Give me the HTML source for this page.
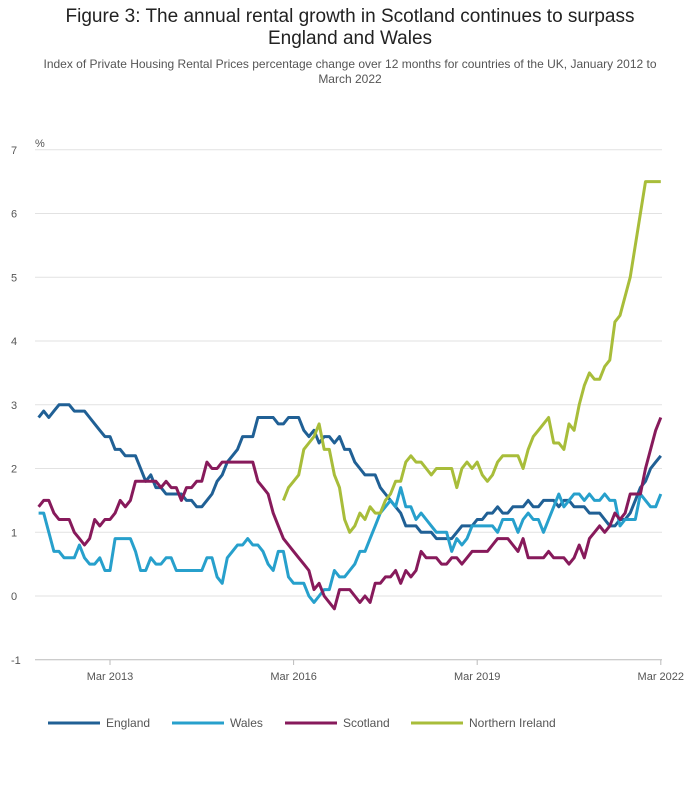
<!DOCTYPE html>
<html><head><meta charset="utf-8"><style>
body{margin:0;background:#fff;font-family:"Liberation Sans",sans-serif;}
#wrap{position:relative;width:700px;height:810px;}
.t{position:absolute;left:0;width:700px;text-align:center;}
</style></head><body>
<div id="wrap">
<div class="t" style="top:6px;font-size:19px;line-height:22px;color:#222;">Figure 3: The annual rental growth in Scotland continues to surpass<br>England and Wales</div>
<div class="t" style="top:57px;font-size:12px;line-height:15px;color:#555;padding:0 20px;box-sizing:border-box;">Index of Private Housing Rental Prices percentage change over 12 months for countries of the UK, January 2012 to<br>March 2022</div>
<svg id="chart" width="700" height="810" style="position:absolute;left:0;top:0"></svg>
</div>
<script>
const yTicks=[-1,0,1,2,3,4,5,6,7];
const xTickLabels=["Mar 2013","Mar 2016","Mar 2019","Mar 2022"];
const xTickMonths=[14,50,86,122];
const seriesNames=["England","Wales","Scotland","Northern Ireland"];
const seriesColors=["#206095","#27a0cc","#871a5b","#a8bd3a"];
const england=[2.8,2.9,2.8,2.9,3.0,3.0,3.0,2.9,2.9,2.9,2.8,2.7,2.6,2.5,2.5,2.3,2.3,2.2,2.2,2.2,2.0,1.8,1.9,1.7,1.7,1.6,1.6,1.6,1.6,1.5,1.5,1.4,1.4,1.5,1.6,1.8,1.9,2.1,2.2,2.3,2.5,2.5,2.5,2.8,2.8,2.8,2.8,2.7,2.7,2.8,2.8,2.8,2.6,2.5,2.6,2.4,2.5,2.5,2.4,2.5,2.3,2.3,2.1,2.0,1.9,1.9,1.9,1.7,1.6,1.5,1.4,1.3,1.1,1.1,1.1,1.0,1.0,1.0,0.9,0.9,0.9,0.9,1.0,1.1,1.1,1.1,1.2,1.2,1.3,1.3,1.4,1.3,1.3,1.4,1.4,1.4,1.5,1.4,1.4,1.5,1.5,1.5,1.4,1.5,1.5,1.4,1.4,1.4,1.3,1.3,1.3,1.2,1.1,1.1,1.2,1.2,1.3,1.5,1.7,1.8,2.0,2.1,2.2];
const wales=[1.3,1.3,1.0,0.7,0.7,0.6,0.6,0.6,0.8,0.6,0.5,0.5,0.6,0.4,0.4,0.9,0.9,0.9,0.9,0.7,0.4,0.4,0.6,0.5,0.5,0.6,0.6,0.4,0.4,0.4,0.4,0.4,0.4,0.6,0.6,0.3,0.2,0.6,0.7,0.8,0.8,0.9,0.8,0.8,0.7,0.5,0.4,0.7,0.7,0.3,0.2,0.2,0.2,0.0,-0.1,0.0,0.1,0.1,0.4,0.3,0.3,0.4,0.5,0.7,0.7,0.9,1.1,1.3,1.4,1.5,1.4,1.7,1.4,1.4,1.2,1.3,1.2,1.1,1.0,1.0,1.0,0.7,0.9,0.8,0.9,1.1,1.1,1.1,1.1,1.1,1.0,1.2,1.2,1.2,1.0,1.2,1.3,1.2,1.2,1.0,1.2,1.4,1.6,1.4,1.5,1.6,1.6,1.5,1.6,1.5,1.5,1.6,1.5,1.5,1.1,1.2,1.2,1.2,1.6,1.5,1.4,1.4,1.6];
const scotland=[1.4,1.5,1.5,1.3,1.2,1.2,1.2,1.0,0.9,0.8,0.9,1.2,1.1,1.2,1.2,1.3,1.5,1.4,1.5,1.8,1.8,1.8,1.8,1.8,1.7,1.8,1.7,1.7,1.5,1.7,1.7,1.8,1.8,2.1,2.0,2.0,2.1,2.1,2.1,2.1,2.1,2.1,2.1,1.8,1.7,1.6,1.3,1.1,0.9,0.8,0.7,0.6,0.5,0.4,0.1,0.2,0.0,-0.1,-0.2,0.1,0.1,0.1,0.0,-0.1,0.0,-0.1,0.2,0.2,0.3,0.3,0.4,0.2,0.4,0.3,0.4,0.7,0.6,0.6,0.6,0.5,0.5,0.6,0.6,0.5,0.6,0.7,0.7,0.7,0.7,0.8,0.9,0.9,0.9,0.8,0.7,0.9,0.6,0.6,0.6,0.6,0.7,0.6,0.6,0.6,0.5,0.6,0.8,0.6,0.9,1.0,1.1,1.0,1.1,1.3,1.2,1.3,1.6,1.6,1.6,2.0,2.3,2.6,2.8];
const northernIreland=[null,null,null,null,null,null,null,null,null,null,null,null,null,null,null,null,null,null,null,null,null,null,null,null,null,null,null,null,null,null,null,null,null,null,null,null,null,null,null,null,null,null,null,null,null,null,null,null,1.5,1.7,1.8,1.9,2.3,2.4,2.5,2.7,2.3,2.3,1.9,1.7,1.2,1.0,1.1,1.3,1.2,1.4,1.3,1.3,1.5,1.6,1.8,1.8,2.1,2.2,2.1,2.1,2.0,1.9,2.0,2.0,2.0,2.0,1.7,2.0,2.1,2.0,2.1,1.9,1.8,1.9,2.1,2.2,2.2,2.2,2.2,2.0,2.3,2.5,2.6,2.7,2.8,2.4,2.4,2.3,2.7,2.6,3.0,3.3,3.5,3.4,3.4,3.6,3.7,4.3,4.4,4.7,5.0,5.5,6.0,6.5,6.5,6.5,6.5];

const svg=document.getElementById('chart');
const NS='http://www.w3.org/2000/svg';
const X0=35,X1=662,M0=38.6,PX=5.1;
const xs=i=>M0+PX*i;
const ys=v=>596-v*63.75;
function mk(tag,attrs){const e=document.createElementNS(NS,tag);for(const k in attrs)e.setAttribute(k,attrs[k]);svg.appendChild(e);return e;}
yTicks.forEach(t=>{
  const g=mk('line',{x1:X0,x2:X1,y1:ys(t),y2:ys(t),stroke:t===-1?'#bbb':'#e2e2e2','stroke-width':1});
  
  
  const l=mk('text',{x:11,y:ys(t)+4,'font-size':11,fill:'#555','font-family':'Liberation Sans, sans-serif'});
  l.textContent=t;
  
  
});
const pct=mk('text',{x:35,y:147,'font-size':11,fill:'#555','font-family':'Liberation Sans, sans-serif'});
pct.textContent='%';


xTickMonths.forEach((m,k)=>{
  const tk=mk('line',{x1:xs(m),x2:xs(m),y1:660,y2:665,stroke:'#bbb'});
  
  
  const l=mk('text',{x:xs(m),y:680,'font-size':11,fill:'#555','text-anchor':'middle','font-family':'Liberation Sans, sans-serif'});
  l.textContent=xTickLabels[k];
  
  
});
[england,wales,scotland,northernIreland].forEach((arr,si)=>{
  let d='',pen=false;
  arr.forEach((v,i)=>{if(v===null){pen=false;return;}d+=(pen?'L':'M')+xs(i).toFixed(1)+','+ys(v).toFixed(1);pen=true;});
  const p=mk('path',{d:d,fill:'none',stroke:seriesColors[si],'stroke-width':3,'stroke-linejoin':'round'});
  
  
});
const legX=[48,172,285,411];
seriesNames.forEach((n,i)=>{
  const ln=mk('line',{x1:legX[i],x2:legX[i]+52,y1:723,y2:723,stroke:seriesColors[i],'stroke-width':3});
  
  
  const t=mk('text',{x:legX[i]+58,y:727,'font-size':12,fill:'#555','font-family':'Liberation Sans, sans-serif'});
  t.textContent=n;
  
  
});
</script>
</body></html>
